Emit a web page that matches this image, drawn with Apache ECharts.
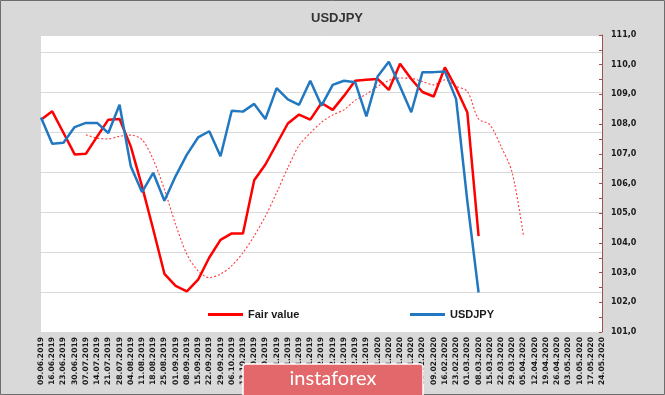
<!DOCTYPE html>
<html>
<head>
<meta charset="utf-8">
<script src="https://cdn.jsdelivr.net/npm/echarts@6/dist/echarts.min.js"></script>
<style>
html,body{margin:0;padding:0;background:#d9d9d9;}
#chart{width:665px;height:395px;}
</style>
</head>
<body>
<div id="chart"></div>
<script>
const categories = ["09.06.2019","16.06.2019","23.06.2019","30.06.2019","07.07.2019","14.07.2019","21.07.2019","28.07.2019","04.08.2019","11.08.2019","18.08.2019","25.08.2019","01.09.2019","08.09.2019","15.09.2019","22.09.2019","29.09.2019","06.10.2019","13.10.2019","20.10.2019","27.10.2019","03.11.2019","10.11.2019","17.11.2019","24.11.2019","01.12.2019","08.12.2019","15.12.2019","22.12.2019","29.12.2019","05.01.2020","12.01.2020","19.01.2020","26.01.2020","02.02.2020","09.02.2020","16.02.2020","23.02.2020","01.03.2020","08.03.2020","15.03.2020","22.03.2020","29.03.2020","05.04.2020","12.04.2020","19.04.2020","26.04.2020","03.05.2020","10.05.2020","17.05.2020","24.05.2020"];

const fairValue = [108.15,108.43,107.71,106.98,107.00,107.58,108.15,108.17,107.25,105.91,104.46,102.96,102.55,102.37,102.76,103.51,104.10,104.32,104.32,106.11,106.64,107.33,108.02,108.32,108.15,108.71,108.48,108.95,109.46,109.49,109.52,109.15,110.03,109.52,109.08,108.93,109.91,109.21,108.39,104.23];

const usdjpy = [108.22,107.34,107.37,107.90,108.04,108.04,107.70,108.65,106.58,105.71,106.36,105.42,106.25,106.97,107.55,107.76,106.92,108.45,108.42,108.68,108.17,109.21,108.83,108.65,109.46,108.62,109.32,109.46,109.41,108.26,109.60,110.10,109.27,108.40,109.75,109.75,109.77,108.84,105.40,102.33];

const fairValueLead = [null,null,null,null,107.64,107.53,107.50,107.59,107.63,107.48,106.81,105.80,104.62,103.62,103.06,102.83,102.95,103.23,103.67,104.23,104.90,105.69,106.53,107.28,107.70,108.06,108.31,108.48,108.80,109.01,109.27,109.47,109.55,109.54,109.43,109.32,109.49,109.27,109.10,108.17,107.98,107.25,106.36,104.23];

const rightTicks = {min: 101, max: 111, step: 1};

const chart = echarts.init(document.getElementById('chart'), null, {renderer: 'canvas'});
const legendText = {fontFamily: 'Liberation Sans', fontWeight: 'bold', fontSize: 11, color: '#1a1a1a'};
chart.setOption({
  backgroundColor: '#d9d9d9',
  animation: false,
  title: {
    text: 'USDJPY', left: 306, top: 7,
    textStyle: {fontFamily: 'Liberation Sans', fontWeight: 'bold', fontSize: 13, color: '#333333'}
  },
  grid: {left: 41, right: 63, top: 35, bottom: 63, show: true, backgroundColor: '#ffffff', borderWidth: 0},
  legend: [
    {data: ['Fair value'], left: 203, top: 304, icon: 'rect', itemWidth: 35, itemHeight: 3, textStyle: legendText},
    {data: ['USDJPY'], left: 405, top: 304, icon: 'rect', itemWidth: 35, itemHeight: 3, textStyle: legendText}
  ],
  xAxis: {
    type: 'category', data: categories, boundaryGap: false,
    axisLine: {lineStyle: {color: '#d9d9d9'}},
    axisTick: {show: false},
    axisLabel: {rotate: 90, interval: 0, margin: 5, fontFamily: 'DejaVu Sans', fontWeight: 'bold', fontSize: 7.6, color: '#1a1a1a'}
  },
  yAxis: [
    {type: 'value', min: 0, max: 7.425, interval: 1, axisLabel: {show: false}, axisLine: {show: false}, axisTick: {show: false},
     splitLine: {lineStyle: {color: '#d9d9d9', width: 1}}},
    {type: 'value', position: 'right', min: rightTicks.min, max: rightTicks.max, interval: rightTicks.step,
     axisLine: {show: true, lineStyle: {color: '#a0504d'}},
     axisTick: {show: true, inside: true, length: 3, lineStyle: {color: '#a0504d'}},
     minorTick: {show: true, splitNumber: 2, length: 3, lineStyle: {color: '#a0504d'}},
     splitLine: {show: false},
     axisLabel: {margin: 9, fontFamily: 'DejaVu Sans', fontWeight: 'bold', fontSize: 8, color: '#1a1a1a',
       formatter: v => v.toFixed(1).replace('.', ',')}}
  ],
  series: [
    {name: 'Fair value lead', type: 'line', yAxisIndex: 1, data: fairValueLead, symbol: 'none', smooth: 0.3,
     lineStyle: {color: '#ff3b3b', width: 1.1, type: [2, 2]}, z: 2},
    {name: 'Fair value', type: 'line', yAxisIndex: 1, data: fairValue, symbol: 'none', color: '#ff0000',
     lineStyle: {color: '#ff0000', width: 2.5}, z: 3},
    {name: 'USDJPY', type: 'line', yAxisIndex: 1, data: usdjpy, symbol: 'none', color: '#2278c0',
     lineStyle: {color: '#2278c0', width: 2.5}, z: 4}
  ],
  graphic: [
    {type: 'rect', shape: {x: 0.5, y: 0.5, width: 664, height: 394}, style: {fill: null, stroke: '#6d6d6d', lineWidth: 1}, z: 100},
    {type: 'rect', shape: {x: 243, y: 364, width: 180, height: 40, r: 3},
     style: {fill: '#e3686c', stroke: '#ffffff', lineWidth: 1.5}, z: 101},
    {type: 'text', x: 333, y: 379, style: {text: 'instaforex', fill: '#ffffff', fontFamily: 'Lato', fontSize: 20,
      textAlign: 'center', textVerticalAlign: 'middle'}, z: 102}
  ]
});
</script>
</body>
</html>
